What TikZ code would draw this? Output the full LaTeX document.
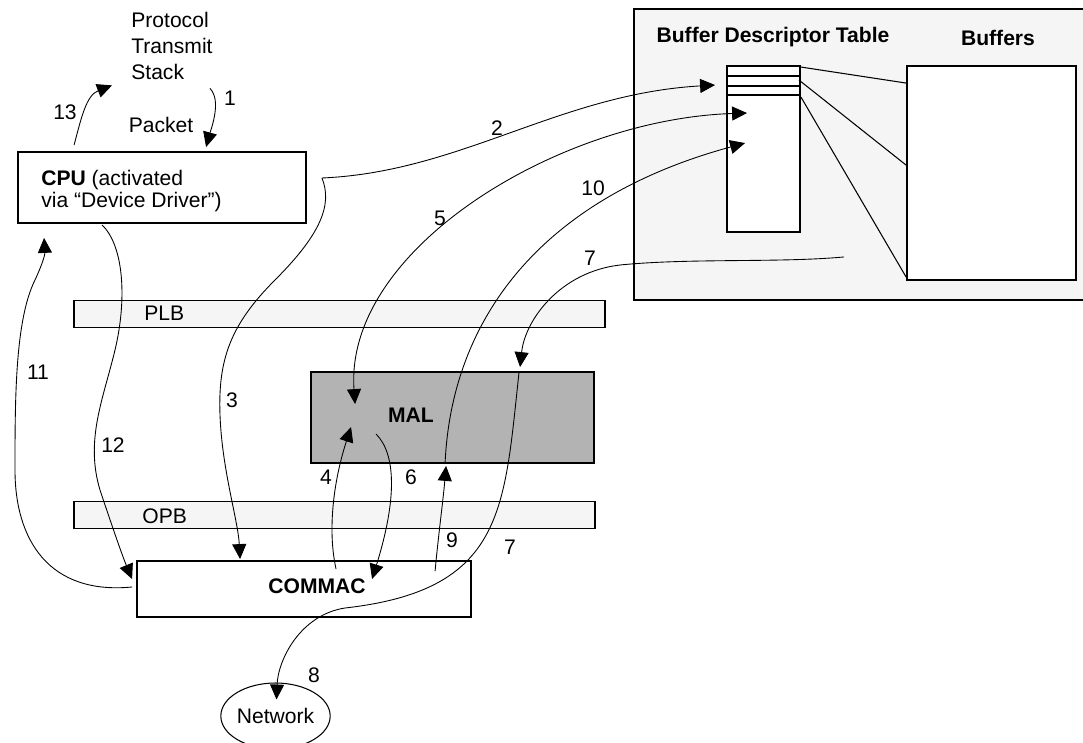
\documentclass[tikz,border=0pt]{standalone}
\usepackage{fontspec}
\setmainfont{Liberation Sans}
\usetikzlibrary{arrows.meta, calc, positioning, shapes.geometric}
\definecolor{panelgray}{HTML}{F5F5F5}
\definecolor{malgray}{HTML}{B3B3B3}
\newcommand{\dgfont}{\fontsize{12}{15}\selectfont}

\begin{document}
\begin{tikzpicture}[
		x=0.02cm, y=-0.02cm,
		>={Triangle[length=8.5pt, width=8pt]},
		every node/.style={font=\dgfont, inner sep=0pt},
		panel/.style={draw=black, line width=1.1pt, fill=panelgray},
		blk/.style={draw=black, line width=1.1pt, fill=white},
		bus/.style={draw=black, line width=1pt, fill=panelgray, minimum height=0.54cm},
		hdr/.style={font=\dgfont\bfseries, anchor=base},
		flow/.style={->, line width=0.5pt},
		link/.style={line width=0.6pt}
		]
		\useasboundingbox (0,0) rectangle (1083,743);
		\clip (0,0) rectangle (1083,743);
		
		% ==========================================
		% 1. DESCRIPTOR TABLE AND BUFFERS
		% ==========================================
		\node[panel, minimum width=9.12cm, minimum height=5.82cm] (mem) at (862,154.5) {};
		\node[hdr] (bdt-lbl) at (773,43) {Buffer Descriptor Table};
		\node[hdr] (buf-lbl) at (998,46) {Buffers};
		\node[blk, minimum width=1.46cm, minimum height=3.32cm] (bdt) at (763.5,149) {};
		\node[blk, minimum width=3.38cm, minimum height=4.28cm] (bufs) at (991.5,173) {};
		% descriptor entries
		\foreach \r in {11,21,30} {
			\draw[line width=1.1pt] ($(bdt.north west)+(0,\r)$) -- ($(bdt.north east)+(0,\r)$);
		}
		% each entry points at its buffer
		\draw[link] ($(bdt.north east)+(0,2)$) -- ($(bufs.north west)+(0,18)$);
		\draw[link] ($(bdt.north east)+(-2,15)$) -- ($(bufs.north west)+(0,100)$);
		\draw[link] ($(bdt.north east)+(0,32)$) -- ($(bufs.south west)+(0,-4)$);
		
		% ==========================================
		% 2. CPU, BUSES, MAL, COMMAC, NETWORK
		% ==========================================
		\node[anchor=north west, align=left] (stack) at (131,11.5) {Protocol\\Transmit\\Stack};
		\node[anchor=base] (packet) at (161,133) {Packet};
		\node[blk, minimum width=5.76cm, minimum height=1.42cm] (cpu) at (162,187.5) {};
		\node[anchor=north west, align=left, font=\fontsize{12}{12.5}\selectfont] (cpu-txt) at (41,169.5) {\textbf{CPU} (activated\\via “Device Driver”)};
		\node[bus, minimum width=10.62cm] (plb) at (339.5,314) {};
		\node[anchor=base west] (plb-txt) at (144,321) {PLB};
		\node[bus, minimum width=10.42cm] (opb) at (334.5,515) {};
		\node[anchor=base west] (opb-txt) at (142,523) {OPB};
		\node[blk, fill=malgray, minimum width=5.66cm, minimum height=1.82cm] (mal) at (452.5,417.5) {};
		\node[hdr] (mal-txt) at (411,423) {MAL};
		\node[blk, minimum width=6.68cm, minimum height=1.12cm] (commac) at (304,589) {};
		\node[hdr] (commac-txt) at (317,593) {COMMAC};
		\node[draw, ellipse, line width=0.6pt, minimum width=2.06cm, minimum height=1.32cm] (net) at (275.5,716) {Network};
		
		% ==========================================
		% 3. NUMBERED TRANSFER STEPS
		% ==========================================
		% 1 and 13: packet between stack and CPU
		\draw[flow] ($(stack.south east)+(-3,8)$) .. controls +(12,12) and +(5,-18) .. ($(cpu.north west)+(189,-4)$);
		\draw[flow] ($(cpu.north west)+(57,-6)$) .. controls +(7,-26) and +(-26,10) .. ($(stack.south west)+(-19,5)$);
		% 2 and 3: CPU sets up descriptor, kicks COMMAC
		\draw[flow] ($(cpu.east)+(15,-9.5)$) .. controls +(139,-6) and +(-156,9) .. ($(bdt.north west)+(-11,20)$);
		\draw[flow] ($(cpu.east)+(15,-9.5)$) .. controls +(11,27) and (320,235) .. (275,280)
			.. controls (230,325) and (218,360) .. (220,415)
			.. controls (222,470) and (238,520) .. ($(commac.north west)+(104,-1)$);
		% 4, 5, 6: COMMAC asks MAL, MAL reads descriptor
		\draw[flow] ($(commac.north west)+(200,9)$) .. controls +(-9,-40) and +(-17,52) .. ($(mal.north west)+(41,56)$);
		\draw[flow, <->] ($(mal.north west)+(45,33)$) .. controls +(-11,-155) and +(-188,6) .. ($(bdt.north west)+(21,48)$);
		\draw[flow] ($(mal.north west)+(66,63)$) .. controls +(20,20) and +(25,-80) .. ($(commac.north west)+(236,19)$);
		% 7 and 8: buffer data out to the network
		\draw[flow] ($(bufs.south west)+(-62,-24)$) .. controls +(-65,6) and (690,258) .. (620,265)
			.. controls (560,272) and (525,320) .. ($(mal.north west)+(210,-4)$);
		\draw[flow] ($(mal.north west)+(209,1)$) .. controls +(-15,137) and (505,590) .. (345,608)
			.. controls (300,615) and (278,660) .. ($(net.north)+(1,17)$);
		% 9 and 10: status written back
		\draw[flow] ($(commac.north west)+(299,11)$) .. controls +(4,-42) and +(-3,35) .. ($(mal.south west)+(136,2)$);
		\draw[flow] ($(mal.south west)+(135,0)$) .. controls +(6,-143) and +(-206,56) .. ($(bdt.north west)+(19,78)$);
		% 11 and 12: interrupt and acknowledge
		\draw[flow] ($(commac.west)+(-4,-2)$) .. controls +(-83,8) and (15,540) .. (15,470)
			.. controls (15,400) and (15,320) .. (35,280)
			.. controls (42,265) and (45,255) .. ($(cpu.south west)+(27,14)$);
		\draw[flow] ($(cpu.south west)+(85,1)$) .. controls +(22,21) and (127,300) .. (115,350)
			.. controls (103,400) and (85,440) .. (100,490)
			.. controls (110,520) and (122,555) .. ($(commac.north west)+(-4,19)$);
		
		% step numbers
		\foreach \k/\txt/\px/\py in {
			1/1/230/98, 2/2/497/128, 3/3/232/400, 4/4/326/477, 5/5/440/218,
			6/6/411/477, 7/7/590/258, 8/7/510/547, 9/8/314/675, 10/9/452/540,
			11/10/593/188, 12/11/38/372, 13/12/113/445, 14/13/65/112%
		} {
			\node (step-\k) at (\px,\py) {\txt};
		}
		
	\end{tikzpicture}
\end{document}
